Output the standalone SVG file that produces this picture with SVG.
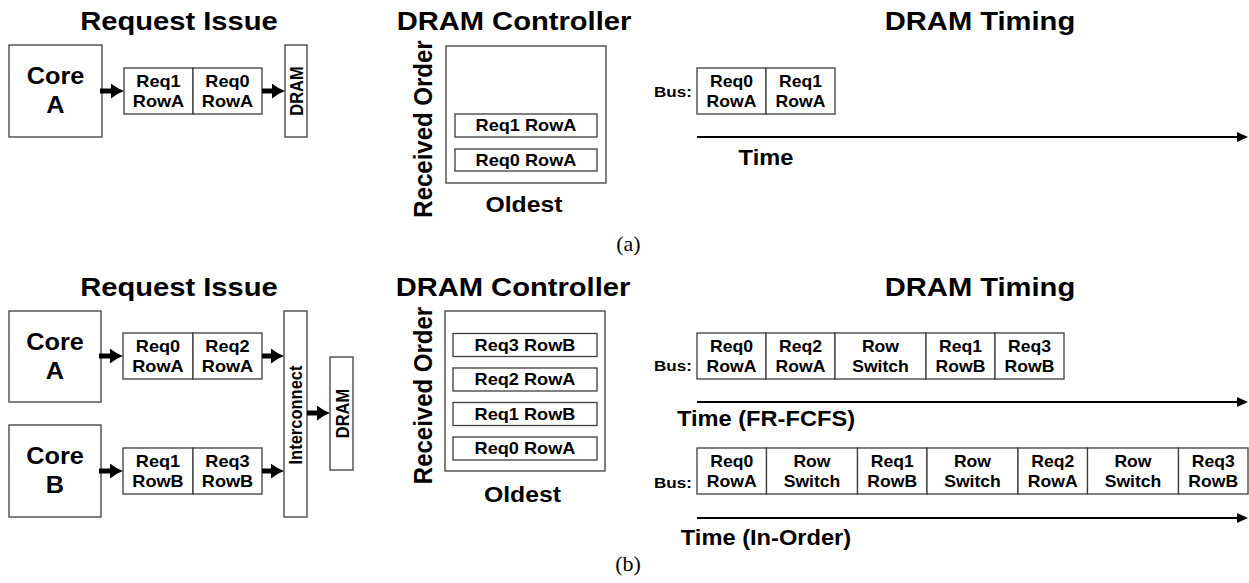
<svg xmlns="http://www.w3.org/2000/svg" width="1249" height="583" viewBox="0 0 1249 583">
<style>
.box{fill:#fff;stroke:#3c3c3c;stroke-width:1.3}
.t{font-family:"Liberation Sans",Arial,sans-serif;font-weight:bold;fill:#000;text-anchor:middle;transform-box:fill-box;transform-origin:center;transform:scaleX(1.1)}
.vt{font-family:"Liberation Sans",Arial,sans-serif;font-weight:bold;fill:#000;text-anchor:middle}
.title{font-size:26.5px}
.core{font-size:23px}
.lbl{font-size:16.5px}
.tl{font-size:16px}
.clbl{font-size:16.5px}
.big{font-size:22.5px}
.time{font-size:21.5px}
.bus{font-size:15.5px}
.cap{font-family:"Liberation Serif","Times New Roman",serif;font-size:22px;text-anchor:middle;fill:#000}
.arr{stroke:#000;stroke-width:5;fill:none;marker-end:url(#thick)}
.axis{stroke:#000;stroke-width:2;fill:none;marker-end:url(#axhead)}
</style>
<defs>
<marker id="thick" markerUnits="userSpaceOnUse" viewBox="0 0 13 15" refX="2" refY="7.5" markerWidth="13" markerHeight="15" orient="auto"><path d="M0,0 Q6,5 13,7.5 Q6,10 0,15 z" fill="#000"/></marker>
<marker id="axhead" markerUnits="userSpaceOnUse" viewBox="0 0 11 10" refX="1" refY="5" markerWidth="11" markerHeight="10" orient="auto"><path d="M0,0 L11,5 L0,10 z" fill="#000"/></marker>
</defs>

<!-- ===== (a) ===== -->
<text class="t title" x="179" y="30">Request Issue</text>
<text class="t title" x="514" y="30">DRAM Controller</text>
<text class="t title" x="980" y="30">DRAM Timing</text>

<g id="a-coreA">
<rect class="box" x="9" y="45" width="93" height="92"/>
<text class="t core" x="55.5" y="84">Core</text>
<text class="t core" x="55.5" y="113">A</text>
</g>
<g id="a-queue">
<rect class="box" x="124" y="68" width="69" height="46"/>
<rect class="box" x="193" y="68" width="69" height="46"/>
<text class="t lbl" x="158.5" y="87">Req1</text>
<text class="t lbl" x="158.5" y="107">RowA</text>
<text class="t lbl" x="227.5" y="87">Req0</text>
<text class="t lbl" x="227.5" y="107">RowA</text>
</g>
<g id="a-dram">
<rect class="box" x="285" y="45" width="22" height="92"/>
<text class="vt" font-size="16.5" transform="translate(302.5,91) rotate(-90) scale(1,1.1)">DRAM</text>
</g>

<g id="a-controller">
<rect class="box" x="446" y="46" width="160" height="137"/>
<rect class="box" x="455" y="114" width="142" height="23"/>
<text class="t clbl" x="526" y="131.5">Req1 RowA</text>
<rect class="box" x="455" y="149" width="142" height="22"/>
<text class="t clbl" x="526" y="166">Req0 RowA</text>
<text class="vt" font-size="24" transform="translate(431.5,129) rotate(-90) scale(1,1.1)">Received Order</text>
<text class="t big" x="524" y="212">Oldest</text>
</g>

<g id="a-timing">
<text class="t bus" x="673" y="97">Bus:</text>
<rect class="box" x="697" y="68" width="69" height="46"/>
<rect class="box" x="766" y="68" width="69" height="46"/>
<text class="t tl" x="731.5" y="87">Req0</text>
<text class="t tl" x="731.5" y="107">RowA</text>
<text class="t tl" x="800.5" y="87">Req1</text>
<text class="t tl" x="800.5" y="107">RowA</text>
<text class="t time" x="766" y="165">Time</text>
</g>

<text class="cap" x="628.5" y="251">(a)</text>

<!-- ===== (b) ===== -->
<text class="t title" x="179" y="296">Request Issue</text>
<text class="t title" x="513" y="296">DRAM Controller</text>
<text class="t title" x="980" y="296">DRAM Timing</text>

<g id="b-coreA">
<rect class="box" x="9" y="311" width="92" height="91"/>
<text class="t core" x="55" y="350">Core</text>
<text class="t core" x="55" y="379">A</text>
</g>
<g id="b-coreB">
<rect class="box" x="9" y="425" width="92" height="92"/>
<text class="t core" x="55" y="464">Core</text>
<text class="t core" x="55" y="493">B</text>
</g>
<g id="b-queueA">
<rect class="box" x="123" y="333" width="70" height="46"/>
<rect class="box" x="193" y="333" width="69" height="46"/>
<text class="t lbl" x="158" y="352">Req0</text>
<text class="t lbl" x="158" y="372">RowA</text>
<text class="t lbl" x="227.5" y="352">Req2</text>
<text class="t lbl" x="227.5" y="372">RowA</text>
</g>
<g id="b-queueB">
<rect class="box" x="123" y="448" width="70" height="46"/>
<rect class="box" x="193" y="448" width="69" height="46"/>
<text class="t lbl" x="158" y="467">Req1</text>
<text class="t lbl" x="158" y="487">RowB</text>
<text class="t lbl" x="227.5" y="467">Req3</text>
<text class="t lbl" x="227.5" y="487">RowB</text>
</g>
<g id="b-interconnect">
<rect class="box" x="284" y="311" width="23" height="206"/>
<text class="vt" font-size="16.5" transform="translate(302,415) rotate(-90) scale(1,1.1)">Interconnect</text>
</g>
<g id="b-dram">
<rect class="box" x="330" y="357" width="23" height="113"/>
<text class="vt" font-size="16.5" transform="translate(348.5,413.5) rotate(-90) scale(1,1.1)">DRAM</text>
</g>

<g id="b-controller">
<rect class="box" x="445" y="311" width="160" height="160"/>
<rect class="box" x="453" y="333.5" width="144" height="23"/>
<text class="t clbl" x="525" y="351">Req3 RowB</text>
<rect class="box" x="453" y="368" width="144" height="23"/>
<text class="t clbl" x="525" y="385.5">Req2 RowA</text>
<rect class="box" x="453" y="402.5" width="144" height="23"/>
<text class="t clbl" x="525" y="420">Req1 RowB</text>
<rect class="box" x="453" y="437" width="144" height="23"/>
<text class="t clbl" x="525" y="454.5">Req0 RowA</text>
<text class="vt" font-size="24" transform="translate(431.5,395.5) rotate(-90) scale(1,1.1)">Received Order</text>
<text class="t big" x="522.5" y="502">Oldest</text>
</g>

<g id="b-timing-frfcfs">
<text class="t bus" x="673" y="371">Bus:</text>
<rect class="box" x="697" y="333" width="69" height="46"/>
<rect class="box" x="766" y="333" width="69" height="46"/>
<rect class="box" x="835" y="333" width="91" height="46"/>
<rect class="box" x="926" y="333" width="69" height="46"/>
<rect class="box" x="995" y="333" width="69" height="46"/>
<text class="t tl" x="731.5" y="352.5">Req0</text>
<text class="t tl" x="731.5" y="372.5">RowA</text>
<text class="t tl" x="800.5" y="352.5">Req2</text>
<text class="t tl" x="800.5" y="372.5">RowA</text>
<text class="t tl" x="880.5" y="352.5">Row</text>
<text class="t tl" x="880.5" y="372.5">Switch</text>
<text class="t tl" x="960.5" y="352.5">Req1</text>
<text class="t tl" x="960.5" y="372.5">RowB</text>
<text class="t tl" x="1029.5" y="352.5">Req3</text>
<text class="t tl" x="1029.5" y="372.5">RowB</text>
<text class="t time" x="766" y="426">Time (FR-FCFS)</text>
</g>

<g id="b-timing-inorder">
<text class="t bus" x="673" y="488">Bus:</text>
<rect class="box" x="697" y="448" width="69.5" height="46"/>
<rect class="box" x="766.5" y="448" width="91" height="46"/>
<rect class="box" x="857.5" y="448" width="69.5" height="46"/>
<rect class="box" x="927" y="448" width="91" height="46"/>
<rect class="box" x="1018" y="448" width="69.5" height="46"/>
<rect class="box" x="1087.5" y="448" width="91" height="46"/>
<rect class="box" x="1178.5" y="448" width="69.5" height="46"/>
<text class="t tl" x="731.75" y="467">Req0</text>
<text class="t tl" x="731.75" y="487">RowA</text>
<text class="t tl" x="812" y="467">Row</text>
<text class="t tl" x="812" y="487">Switch</text>
<text class="t tl" x="892.25" y="467">Req1</text>
<text class="t tl" x="892.25" y="487">RowB</text>
<text class="t tl" x="972.5" y="467">Row</text>
<text class="t tl" x="972.5" y="487">Switch</text>
<text class="t tl" x="1052.75" y="467">Req2</text>
<text class="t tl" x="1052.75" y="487">RowA</text>
<text class="t tl" x="1133" y="467">Row</text>
<text class="t tl" x="1133" y="487">Switch</text>
<text class="t tl" x="1213.25" y="467">Req3</text>
<text class="t tl" x="1213.25" y="487">RowB</text>
<text class="t time" x="766" y="545">Time (In-Order)</text>
</g>

<text class="cap" x="628" y="571">(b)</text>

<g id="connectors">
<line class="arr" x1="100" y1="91" x2="113" y2="91"/>
<line class="arr" x1="262" y1="91" x2="274" y2="91"/>
<line class="arr" x1="99" y1="356" x2="112" y2="356"/>
<line class="arr" x1="99" y1="471" x2="112" y2="471"/>
<line class="arr" x1="262" y1="356" x2="273" y2="356"/>
<line class="arr" x1="262" y1="471" x2="273" y2="471"/>
<line class="arr" x1="307" y1="413" x2="319" y2="413"/>
<line class="axis" x1="697" y1="137" x2="1238" y2="137"/>
<line class="axis" x1="697" y1="402" x2="1238" y2="402"/>
<line class="axis" x1="697" y1="518" x2="1238" y2="518"/>
</g>
</svg>
